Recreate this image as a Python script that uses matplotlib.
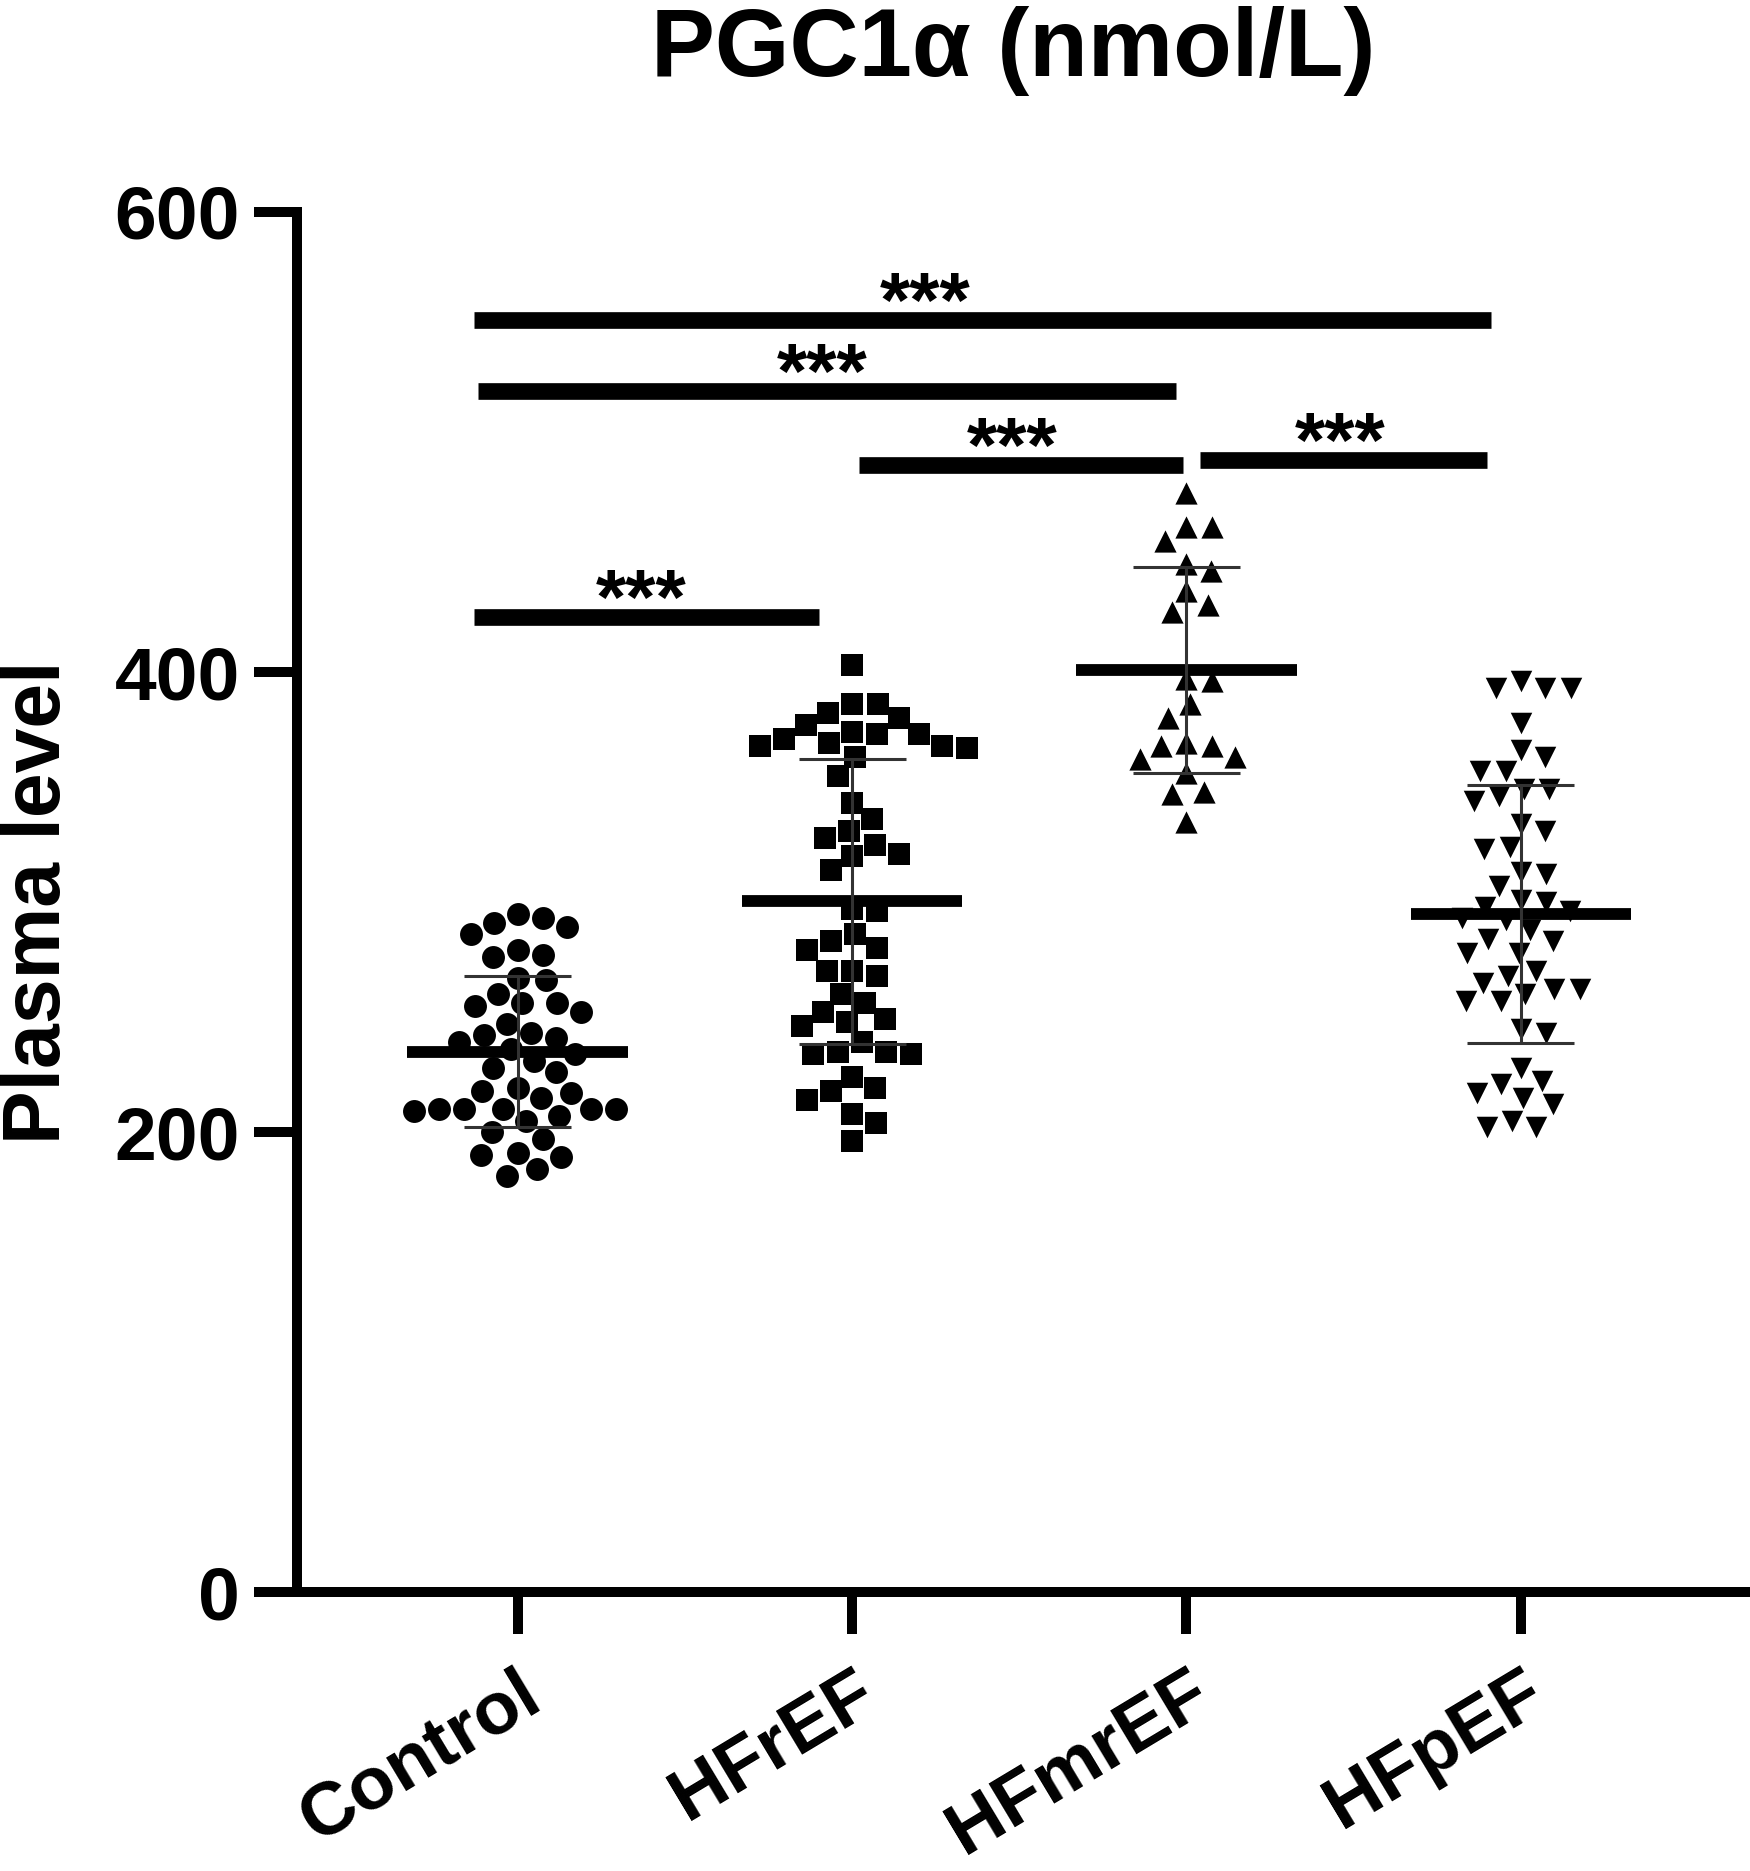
import numpy as np
import matplotlib
matplotlib.use('Agg')
import matplotlib.pyplot as plt

plt.rcParams['font.family'] = ['Liberation Sans', 'DejaVu Sans']

groups = ['Control', 'HFrEF', 'HFmrEF', 'HFpEF']
markers = ['o', 's', '^', 'v']

control = [289, 293, 291, 295, 286, 279, 277, 276, 267, 266,
           260, 256, 252, 255, 256, 247, 243, 239, 241, 242,
           234, 231, 236, 228, 226, 218, 219, 217, 215, 210,
           210, 210, 207, 209, 210, 205, 210, 200, 197, 191,
           190, 189, 184, 181]
hfref = [403, 386, 386, 382, 380, 377, 374, 371, 368, 368,
         367, 369, 373, 373, 363, 355, 343, 336, 331, 325,
         328, 321, 320, 314, 296, 297, 283, 286, 280, 279,
         268, 270, 270, 260, 256, 252, 249, 246, 248, 239,
         235, 234, 234, 235, 224, 219, 218, 214, 208, 204, 196]
hfmref = [478, 463, 463, 457, 447, 444, 435, 429, 426, 396,
          397, 386, 380, 369, 368, 368, 362, 363, 356, 348,
          347, 335]
hfpef = [396, 393, 393, 393, 378, 366, 363, 357, 357, 349,
         349, 346, 344, 334, 331, 323, 324, 312, 313, 307,
         301, 300, 296, 298, 292, 293, 288, 284, 283, 278,
         278, 268, 265, 262, 260, 257, 270, 262, 257, 245,
         243, 228, 222, 221, 215, 217, 212, 205, 202, 202]
data = [control, hfref, hfmref, hfpef]

# significance bars (start x, end x, level) and star positions
sig_x0 = [-0.13, -0.12, 1.02, 2.04, -0.13]
sig_x1 = [2.91, 1.97, 1.99, 2.90, 0.90]
sig_y = [553, 522, 490, 492, 424]
sig_tx = [1.22, 0.91, 1.48, 2.46, 0.37]
sig_lbl = ['***', '***', '***', '***', '***']


def swarm(vals, diam, ppx, ppy):
    # simple beeswarm, works in pixels
    vals = np.asarray(vals, float)
    order = np.argsort(vals)[::-1]
    placed = []
    xs = np.zeros(len(vals))
    for i in order:
        y = vals[i] * ppy
        near = [(px, py) for px, py in placed if abs(py - y) < diam]
        cands = [0.0]
        for px, py in near:
            dx = np.sqrt(diam ** 2 - (py - y) ** 2)
            cands += [px + dx, px - dx]
        cands.sort(key=abs)
        for c in cands:
            if all((c - px) ** 2 + (y - py) ** 2 >= diam ** 2 - 1e-6 for px, py in near):
                xs[i] = c
                break
        placed.append((xs[i], y))
    return xs / ppx


fig = plt.figure(figsize=(17.5, 18.71), dpi=100)
ax = fig.add_axes([0.1697, 0.1491, 0.8274, 0.7376])
ax.set_xlim(-0.66, 3.67)
ax.set_ylim(0, 600)

ppx = 0.8274 * 1750 / 4.33
ppy = 0.7376 * 1871 / 600
msize = [16.5, 15.5, 16.0, 15.5]

for i, vals in enumerate(data):
    off = swarm(vals, 25.5, ppx, ppy)
    ax.scatter(i + off, vals, s=msize[i] ** 2, marker=markers[i],
               color='black', linewidths=0, zorder=3)
    m = np.mean(vals)
    sd = np.std(vals, ddof=1)
    ax.hlines(m, i - 0.33, i + 0.33, color='black', lw=8.5, zorder=4)
    ax.vlines(i, m - sd, m + sd, color='#333333', lw=2.2, zorder=4)
    ax.hlines([m - sd, m + sd], i - 0.16, i + 0.16, color='#333333', lw=2.2, zorder=4)

for x0, x1, y, tx, lbl in zip(sig_x0, sig_x1, sig_y, sig_tx, sig_lbl):
    ax.plot([x0, x1], [y, y], color='black', lw=12, solid_capstyle='butt', zorder=5)
    ax.text(tx, y - 3, lbl, ha='center', va='baseline', fontsize=56,
            fontweight='bold', zorder=5)

for s in ['top', 'right']:
    ax.spines[s].set_visible(False)
for s in ['left', 'bottom']:
    ax.spines[s].set_linewidth(7.2)

ax.set_yticks([0, 200, 400, 600])
ax.tick_params(axis='y', length=31, width=7.2, pad=10, labelsize=54)
ax.tick_params(axis='x', length=30, width=7.2, pad=18, labelsize=54)
ax.set_xticks(range(len(groups)))
ax.set_xticklabels(groups, rotation=31, ha='right', rotation_mode='anchor')
for lab in ax.get_xticklabels() + ax.get_yticklabels():
    lab.set_fontweight('bold')

ax.set_ylabel('Plasma level', fontsize=58, fontweight='bold', va='center')
ax.yaxis.set_label_coords(-0.178, 0.5)

fig.text(0.579, 0.9727, 'PGC1α (nmol/L)', ha='center', va='center',
         fontsize=69, fontweight='bold')

fig.savefig('out.png', dpi=100)
